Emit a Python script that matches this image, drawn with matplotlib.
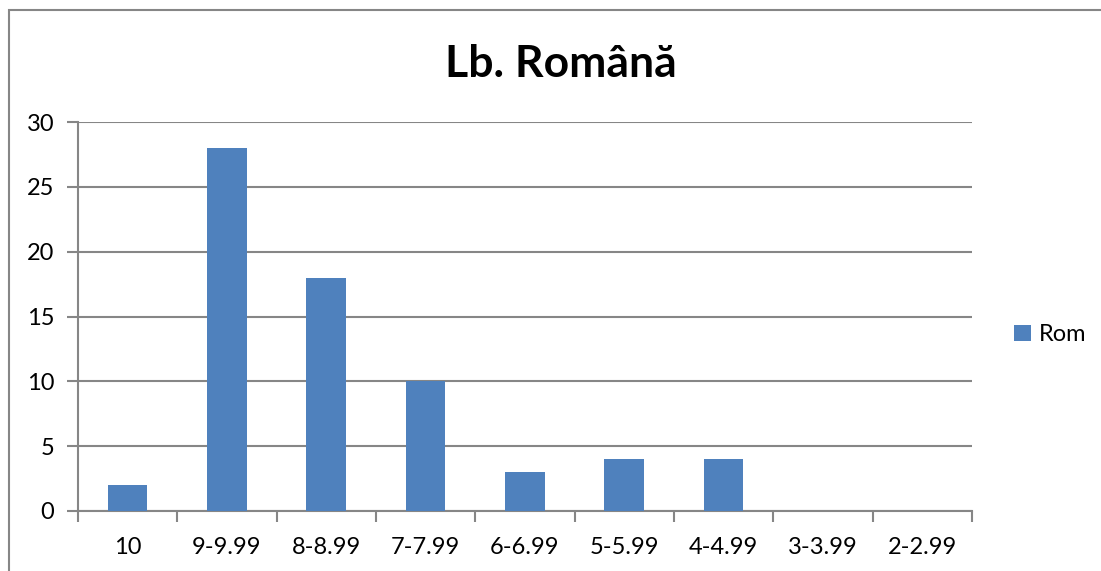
import matplotlib.pyplot as plt
import matplotlib.patches as patches
import numpy as np

# categories and counts
categorii = ["10", "9-9.99", "8-8.99", "7-7.99", "6-6.99", "5-5.99", "4-4.99", "3-3.99", "2-2.99"]
rom = [2, 28, 18, 10, 3, 4, 4, 0, 0]
y_ticks = [0, 5, 10, 15, 20, 25, 30]

plt.rcParams['font.family'] = ['Lato', 'DejaVu Sans']
grey = '#868686'

fig = plt.figure(figsize=(11.01, 5.71), dpi=100)
ax = fig.add_axes([0.0708, 0.1051, 0.8120, 0.6812])

x = np.arange(len(categorii))
ax.bar(x, rom, width=0.4, color='#4F81BD', label='Rom', zorder=3)

ax.set_xlim(-0.5, len(categorii) - 0.5)
ax.set_ylim(0, 30)
ax.set_yticks(y_ticks)
ax.yaxis.grid(True, color=grey, linewidth=1.5, zorder=0)

ax.set_xticks(np.arange(-0.5, len(categorii), 1.0))
ax.set_xticklabels([])
ax.set_xticks(x, minor=True)
ax.set_xticklabels(categorii, minor=True)
ax.tick_params(axis='x', which='major', direction='out', length=8, width=1.5, color=grey)
ax.tick_params(axis='x', which='minor', length=0, pad=19, labelsize=17)
ax.tick_params(axis='y', direction='out', length=8, width=1.5, color=grey, labelsize=17, pad=9)

for s in ['top', 'right']:
    ax.spines[s].set_visible(False)
for s in ['left', 'bottom']:
    ax.spines[s].set_color(grey)
    ax.spines[s].set_linewidth(1.5)

fig.text(0.509, 0.888, "Lb. Română", ha='center', va='center', fontsize=32, fontweight='bold')

leg = fig.legend(loc='center left', bbox_to_anchor=(0.902, 0.414), frameon=False,
                 fontsize=17, handlelength=0.7, handleheight=0.7, handletextpad=0.35)

# chart border (top and left edges visible)
fig.patches.append(patches.Rectangle((9 / 1101, -0.1), 1.2, (571 - 10) / 571 + 0.1,
                                     transform=fig.transFigure, fill=False,
                                     edgecolor=grey, linewidth=1.5))

fig.savefig('out.png', dpi=100)
